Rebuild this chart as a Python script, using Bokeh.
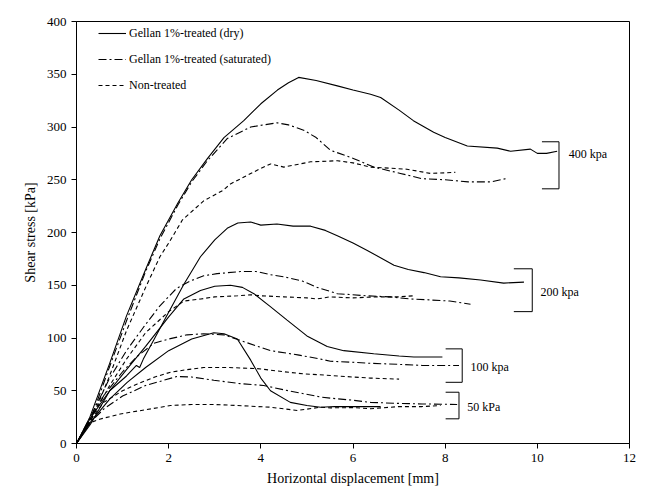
from bokeh.plotting import figure
from bokeh.models import Range1d, Legend, LegendItem, FixedTicker
from bokeh.core.properties import value
from bokeh.embed import file_html
from bokeh.resources import INLINE

FONT = "Liberation Serif"

# ---- data ----
dry_400_x = [0, 0.29, 0.72, 1.085, 1.5, 1.81, 2.2, 2.5, 2.84, 3.2, 3.63, 4.0, 4.36, 4.6, 4.82, 5.2, 5.66, 6.0, 6.38, 6.6, 7.0, 7.31, 7.75, 8.0, 8.48, 9.13, 9.42, 9.85, 10.0, 10.2, 10.43]
dry_400_y = [0, 25, 76, 121, 165, 197, 228, 250, 270, 290, 306, 322, 335, 342, 347, 344, 339, 335, 331, 328, 316, 306, 295, 290, 282, 280, 277, 279, 275, 275, 277]

sat_400_x = [0, 0.3, 0.72, 1.1, 1.5, 1.81, 2.2, 2.5, 2.84, 3.27, 3.78, 4.35, 4.6, 4.93, 5.2, 5.51, 6.02, 6.45, 7.03, 7.5, 8.0, 8.5, 9.0, 9.31]
sat_400_y = [0, 22, 73, 118, 163, 194, 226, 248, 268, 289, 300, 304, 302, 297, 290, 278, 270, 262, 256, 251, 250, 248, 248, 251]

nt_400_x = [0, 0.3, 0.7, 1.085, 1.5, 1.81, 2.0, 2.3, 2.76, 3.18, 3.34, 3.92, 4.21, 4.5, 5.08, 5.66, 6.0, 6.38, 7.17, 7.68, 8.22]
nt_400_y = [0, 20, 62, 107, 148, 177, 190, 212, 230, 240, 246, 259, 265, 262, 267, 268, 266, 262, 260, 256, 257]

dry_200_x = [0, 0.3, 0.72, 1.085, 1.3, 1.37, 1.45, 1.7, 1.97, 2.33, 2.69, 3.0, 3.27, 3.5, 3.78, 4.0, 4.35, 4.7, 5.08, 5.4, 5.66, 6.0, 6.31, 6.89, 7.2, 7.54, 7.9, 8.3, 8.77, 9.27, 9.71]
dry_200_y = [0, 18, 50, 64, 74, 72, 80, 100, 122, 151, 177, 193, 204, 209, 210, 207, 208, 206, 206, 202, 197, 190, 183, 169, 165, 162, 158, 157, 155, 152, 153]

sat_200_x = [0, 0.3, 0.72, 1.085, 1.45, 1.8, 2.17, 2.47, 2.76, 3.05, 3.56, 3.9, 4.21, 4.5, 4.9, 5.22, 5.66, 6.31, 6.8, 7.25, 7.7, 8.1, 8.55]
sat_200_y = [0, 25, 62, 88, 110, 130, 147, 154, 159, 161, 163, 163, 160, 158, 154, 148, 142, 140, 139, 137, 136, 135, 132]

nt_200_x = [0, 0.3, 0.72, 1.085, 1.5, 2.0, 2.33, 2.7, 3.0, 3.5, 3.78, 4.0, 4.5, 5.0, 5.22, 5.5, 6.0, 6.5, 7.0, 7.32]
nt_200_y = [0, 22, 55, 80, 105, 125, 135, 137, 139, 140, 141, 140, 139, 138, 137, 139, 138, 139, 139, 140]

dry_100_x = [0, 0.3, 0.72, 1.085, 1.5, 2.0, 2.33, 2.69, 3.0, 3.34, 3.6, 3.85, 4.2, 4.57, 5.0, 5.44, 5.8, 6.45, 7.0, 7.32, 7.94]
dry_100_y = [0, 24, 50, 70, 92, 120, 137, 145, 149, 150, 148, 142, 130, 117, 102, 92, 88, 85, 83, 82, 82]

sat_100_x = [0, 0.3, 0.6, 1.0, 1.3, 1.68, 2.0, 2.4, 2.76, 3.2, 3.6, 4.21, 4.8, 5.3, 5.51, 6.0, 6.38, 7.0, 7.5, 8.3]
sat_100_y = [0, 24, 46, 68, 82, 95, 99, 103, 104, 103, 97, 88, 84, 80, 78, 77, 76, 75, 74, 74]

nt_100_x = [0, 0.3, 0.59, 1.0, 1.32, 1.7, 2.04, 2.4, 2.76, 3.3, 3.92, 4.5, 4.93, 5.51, 6.0, 6.38, 7.0]
nt_100_y = [0, 22, 39, 50, 56.5, 63, 67.6, 70, 72, 72, 71, 68, 66, 64.5, 63, 62, 61]

dry_50_x = [0, 0.3, 0.72, 1.1, 1.5, 2.0, 2.5, 2.98, 3.2, 3.49, 3.78, 4.0, 4.21, 4.64, 5.0, 5.3, 5.6, 6.0, 6.6]
dry_50_y = [0, 20, 42, 58, 72, 88, 99, 105, 104, 99, 79, 62, 50, 39, 36, 34.4, 35, 35, 35]

sat_50_x = [0, 0.3, 0.6, 1.0, 1.5, 2.18, 2.5, 2.98, 3.5, 4.06, 4.6, 5.3, 5.51, 6.0, 6.38, 7.0, 7.5, 8.26]
sat_50_y = [0, 20, 33, 45, 55, 63.5, 63, 60, 57, 55, 50, 44, 43, 41, 39, 38, 37.5, 37]

nt_50_x = [0, 0.23, 0.5, 0.95, 1.5, 2.04, 2.5, 2.98, 3.5, 4.21, 4.79, 5.3, 5.51, 6.0, 6.38, 7.0, 7.5, 7.9]
nt_50_y = [0, 18.6, 23, 28, 32, 36, 37, 37, 36, 34.4, 31.3, 34.4, 33.8, 34, 33, 35, 35, 36]

series_names = ["Gellan 1%-treated (dry)", "Gellan 1%-treated (saturated)", "Non-treated"]

# brackets grouping the normal-stress levels
bracket_x = [10.47, 9.89, 8.37, 8.30]
bracket_left = [10.1, 9.49, 8.01, 8.01]
bracket_top = [286, 165.6, 89.7, 48.6]
bracket_bottom = [241.4, 125, 58, 23.4]
label_x = [10.68, 10.07, 8.55, 8.48]
label_y = [274.6, 143.4, 72.3, 34.4]
label_text = ["400 kpa", "200 kpa", "100 kpa", "50 kPa"]

x_ticks = [0, 2, 4, 6, 8, 10, 12]
y_ticks = [0, 50, 100, 150, 200, 250, 300, 350, 400]

# ---- figure ----
p = figure(width=650, height=490, output_backend="svg", toolbar_location=None,
           x_range=Range1d(0, 12), y_range=Range1d(0, 400),
           min_border_left=76, min_border_right=21, min_border_top=21, min_border_bottom=47)
p.xgrid.visible = False
p.ygrid.visible = False
p.outline_line_color = "black"
p.outline_line_alpha = 1
p.outline_line_width = 1
p.background_fill_color = "white"
p.border_fill_color = "white"

for ax, ticks in ((p.xaxis[0], x_ticks), (p.yaxis[0], y_ticks)):
    ax.ticker = FixedTicker(ticks=ticks)
    ax.axis_line_color = "black"
    ax.major_tick_line_color = "black"
    ax.major_tick_out = 5
    ax.major_tick_in = 0
    ax.minor_tick_line_color = None
    ax.major_label_text_font = FONT
    ax.major_label_text_font_size = "13px"
    ax.major_label_text_color = "black"
    ax.axis_label_text_font = FONT
    ax.axis_label_text_font_size = "14px"
    ax.axis_label_text_font_style = "normal"
    ax.axis_label_text_color = "black"

p.xaxis.axis_label = "Horizontal displacement [mm]"
p.yaxis.axis_label = "Shear stress [kPa]"
p.xaxis.axis_label_standoff = 6
p.yaxis.axis_label_standoff = 6

DRY = dict(line_color="black", line_width=1.1)
SAT = dict(line_color="black", line_width=1.1, line_dash="8 3 2 3")
NT = dict(line_color="black", line_width=1.1, line_dash="4 3")

r_dry = [p.line(x, y, **DRY) for x, y in ((dry_400_x, dry_400_y), (dry_200_x, dry_200_y), (dry_100_x, dry_100_y), (dry_50_x, dry_50_y))]
r_sat = [p.line(x, y, **SAT) for x, y in ((sat_400_x, sat_400_y), (sat_200_x, sat_200_y), (sat_100_x, sat_100_y), (sat_50_x, sat_50_y))]
r_nt = [p.line(x, y, **NT) for x, y in ((nt_400_x, nt_400_y), (nt_200_x, nt_200_y), (nt_100_x, nt_100_y), (nt_50_x, nt_50_y))]

# brackets
p.segment(x0=bracket_x, y0=bracket_top, x1=bracket_x, y1=bracket_bottom, line_color="black", line_width=1)
p.segment(x0=bracket_left, y0=bracket_top, x1=bracket_x, y1=bracket_top, line_color="black", line_width=1)
p.segment(x0=bracket_left, y0=bracket_bottom, x1=bracket_x, y1=bracket_bottom, line_color="black", line_width=1)
p.text(x=label_x, y=label_y, text=label_text, text_font=value(FONT), text_font_size="12px",
       text_baseline="middle", text_align="left", text_color="black")

legend = Legend(items=[LegendItem(label=series_names[0], renderers=[r_dry[0]]),
                       LegendItem(label=series_names[1], renderers=[r_sat[0]]),
                       LegendItem(label=series_names[2], renderers=[r_nt[0]])],
                location=(22, 348), orientation="vertical")
legend.border_line_color = None
legend.background_fill_alpha = 0
legend.margin = 0
legend.padding = 0
legend.spacing = 6
legend.glyph_width = 28
legend.glyph_height = 20
legend.label_height = 20
legend.label_standoff = 3
legend.label_text_font = FONT
legend.label_text_font_size = "12px"
legend.label_text_color = "black"
p.add_layout(legend)

open("out.html", "w").write(file_html(p, INLINE))
